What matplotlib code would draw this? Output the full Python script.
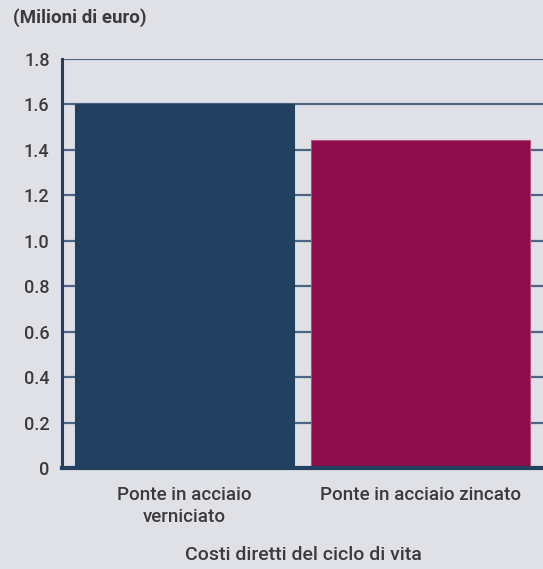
import matplotlib
matplotlib.use("Agg")
import matplotlib.pyplot as plt

categories = ["Ponte in acciaio\nverniciato", "Ponte in acciaio zincato"]
values = [1.60, 1.445]
colors = ["#22405f", "#8e0c4c"]
yticks = [0, 0.2, 0.4, 0.6, 0.8, 1.0, 1.2, 1.4, 1.6, 1.8]
ytick_labels = ["0", "0.2", "0.4", "0.6", "0.8", "1.0", "1.2", "1.4", "1.6", "1.8"]

bg = "#e0e1e6"
navy = "#22405f"
grid_c = "#4d6583"
text_c = "#3b3b3b"

plt.rcParams['font.family'] = ['Roboto', 'DejaVu Sans']

fig = plt.figure(figsize=(5.43, 5.69), dpi=100, facecolor=bg)
ax = fig.add_axes([62/543, (569-468)/569, (543-62)/543 + 0.02, (468-59)/569])
ax.set_facecolor(bg)

x = list(range(len(categories)))
ax.bar(x, values, width=0.93, color=colors, edgecolor=["#22405f", "#b0507e"], linewidth=0.8, zorder=3)

ax.set_xlim(-0.52, 1.52 + 0.02 * 543 / 236)
ax.set_ylim(0, 1.8)
ax.set_yticks(yticks)
ax.set_yticklabels(ytick_labels)
ax.set_xticks(x)
ax.set_xticklabels(categories, linespacing=1.25)

ax.yaxis.grid(True, color=grid_c, linewidth=1.6, zorder=0)
ax.set_axisbelow(True)
ax.tick_params(axis='x', length=0, labelsize=13.5, colors=text_c, pad=13)
ax.tick_params(axis='y', length=0, labelsize=13, colors=text_c, pad=9)
for lbl in ax.get_xticklabels() + ax.get_yticklabels():
    lbl.set_fontweight('medium')

for s in ["top", "right"]:
    ax.spines[s].set_visible(False)
ax.spines["left"].set_color(navy)
ax.spines["left"].set_linewidth(2.2)
ax.spines["bottom"].set_color(navy)
ax.spines["bottom"].set_linewidth(3)
ax.spines["bottom"].set_zorder(4)

fig.text(13/543, 1 - 18/569, "(Milioni di euro)", fontsize=13.5, fontweight='bold',
         color=text_c, ha='left', va='center')
fig.text(303/543, 1 - 555/569, "Costi diretti del ciclo di vita", fontsize=14,
         fontweight='medium', color=text_c, ha='center', va='center')

fig.savefig("out.png", dpi=100, facecolor=bg)
